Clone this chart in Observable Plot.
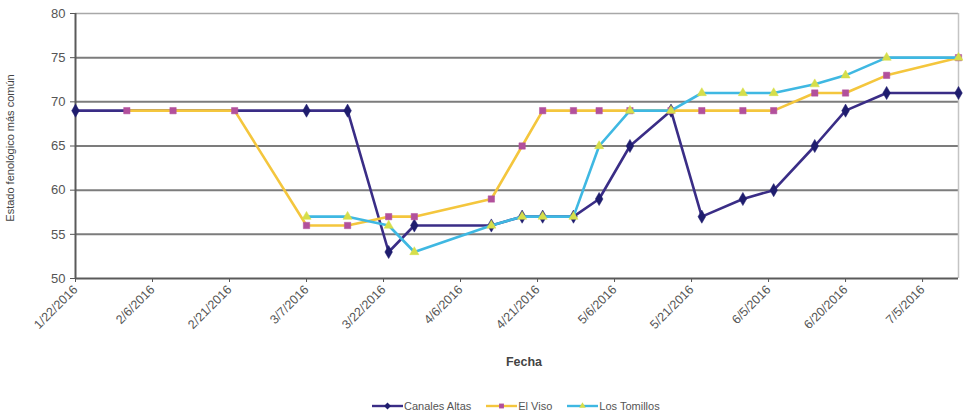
<!DOCTYPE html>
<html>
<head>
<meta charset="utf-8">
<script src="https://cdn.jsdelivr.net/npm/d3@7"></script>
<script src="https://cdn.jsdelivr.net/npm/@observablehq/plot@0.6"></script>
<style>
  body { margin: 0; background: #fff; font-family: "Liberation Sans", Arial, sans-serif; }
  #chart svg { display: block; }
  #legend { display: flex; align-items: center; height: 22px; padding-left: 372px; font-size: 11px; color: #555; }
  #legend .item { display: flex; align-items: center; margin-right: 15px; }
  #legend svg { display: block; margin-right: 1px; }
</style>
</head>
<body>
<div id="chart"></div>
<div id="legend"></div>
<script>
// Sampling dates (shared by the three sites)
const fechas = [
  "2016-01-22", "2016-02-01", "2016-02-10", "2016-02-22", "2016-03-07", "2016-03-15",
  "2016-03-23", "2016-03-28", "2016-04-12", "2016-04-18", "2016-04-22", "2016-04-28",
  "2016-05-03", "2016-05-09", "2016-05-17", "2016-05-23", "2016-05-31", "2016-06-06",
  "2016-06-14", "2016-06-20", "2016-06-28", "2016-07-12"
];

// Most common phenological stage per site (null = not sampled)
const canalesAltas = [69, null, null, null, 69, 69, 53, 56, 56, 57, 57, 57, 59, 65, 69, 57, 59, 60, 65, 69, 71, 71];
const elViso       = [null, 69, 69, 69, 56, 56, 57, 57, 59, 65, 69, 69, 69, 69, 69, 69, 69, 69, 71, 71, 73, 75];
const losTomillos  = [null, null, null, null, 57, 57, 56, 53, 56, 57, 57, 57, 65, 69, 69, 71, 71, 71, 72, 73, 75, 75];

// Axis ticks
const xTicks = ["2016-01-22", "2016-02-06", "2016-02-21", "2016-03-07", "2016-03-22", "2016-04-06",
                "2016-04-21", "2016-05-06", "2016-05-21", "2016-06-05", "2016-06-20", "2016-07-05"];
const yTicks = [50, 55, 60, 65, 70, 75, 80];

const series = [
  { name: "Canales Altas", values: canalesAltas, line: "#3a2d86", marker: "#1f1d6e", symbol: "diamond", r: 4 },
  { name: "El Viso",       values: elViso,       line: "#f4c63d", marker: "#b2509c", symbol: "square",  r: 3.6 },
  { name: "Los Tomillos",  values: losTomillos,  line: "#3fb8e2", marker: "#d6de4a", symbol: "triangle", r: 3.4 }
];

const toDate = s => new Date(s + "T00:00:00Z");
const fmt = d => `${d.getUTCMonth() + 1}/${d.getUTCDate()}/${d.getUTCFullYear()}`;

const rows = s => fechas
  .map((f, i) => ({ fecha: toDate(f), valor: s.values[i] }))
  .filter(d => d.valor != null);

const xMin = toDate(fechas[0]);
const xMax = toDate(fechas[fechas.length - 1]);

const seriesMarks = series.flatMap(s => [
  Plot.line(rows(s), { x: "fecha", y: "valor", stroke: s.line, strokeWidth: 2.6 }),
  Plot.dot(rows(s), { x: "fecha", y: "valor", symbol: () => s.symbol, fill: s.marker, stroke: s.marker, strokeWidth: 0.5, r: s.r })
]);

const chart = Plot.plot({
  width: 963,
  height: 395,
  marginLeft: 75,
  marginRight: 5,
  marginTop: 13,
  marginBottom: 117,
  style: { fontFamily: "Liberation Sans, Arial, sans-serif", color: "#555", background: "#fff", overflow: "visible" },
  x: { type: "utc", domain: [xMin, xMax] },
  y: { domain: [50, 80] },
  symbol: { type: "identity" },
  marks: [
    // horizontal gridlines
    Plot.ruleY(yTicks.filter(v => v > 50 && v < 80), { stroke: "#7c7c7c", strokeWidth: 2 }),
    Plot.ruleY([80], { stroke: "#a8a8a8", strokeWidth: 1.5 }),
    // plot-area right border
    Plot.ruleX([xMax], { stroke: "#c4c4c4", strokeWidth: 1.5 }),
    // axes
    Plot.axisY({ ticks: yTicks, tickSize: 5, tickPadding: 5, fontSize: 13, label: null, stroke: "#555" }),
    Plot.axisX({ ticks: xTicks.map(toDate), tickFormat: fmt, tickRotate: -45, tickSize: 4, tickPadding: 5, fontSize: 12.5, label: null, stroke: "#555" }),
    Plot.ruleX([xMin], { stroke: "#5a5a5a", strokeWidth: 2 }),
    Plot.ruleY([50], { stroke: "#5a5a5a", strokeWidth: 2 }),
    // axis titles
    Plot.text(["Estado fenológico más común"], { frameAnchor: "left", textAnchor: "middle", rotate: -90, dx: -65, dy: 2, fontSize: 11, fill: "#444" }),
    Plot.text(["Fecha"], { frameAnchor: "bottom", dx: 7, dy: 87, fontSize: 12.5, fontWeight: "bold", fill: "#444" }),
    ...seriesMarks
  ]
});
document.getElementById("chart").append(chart);

// Legend below the chart
const legend = d3.select("#legend");
for (const s of series) {
  const item = legend.append("div").attr("class", "item");
  const svg = item.append("svg").attr("width", 31).attr("height", 12);
  svg.append("line").attr("x1", 0).attr("x2", 31).attr("y1", 6).attr("y2", 6)
    .attr("stroke", s.line).attr("stroke-width", 2.4);
  svg.append("path").attr("transform", "translate(15.5,6)")
    .attr("d", d3.symbol(s.symbol === "diamond" ? d3.symbolDiamond2 : s.symbol === "square" ? d3.symbolSquare2 : d3.symbolTriangle2, 30)())
    .attr("fill", s.marker);
  item.append("span").text(s.name);
}
</script>
</body>
</html>
